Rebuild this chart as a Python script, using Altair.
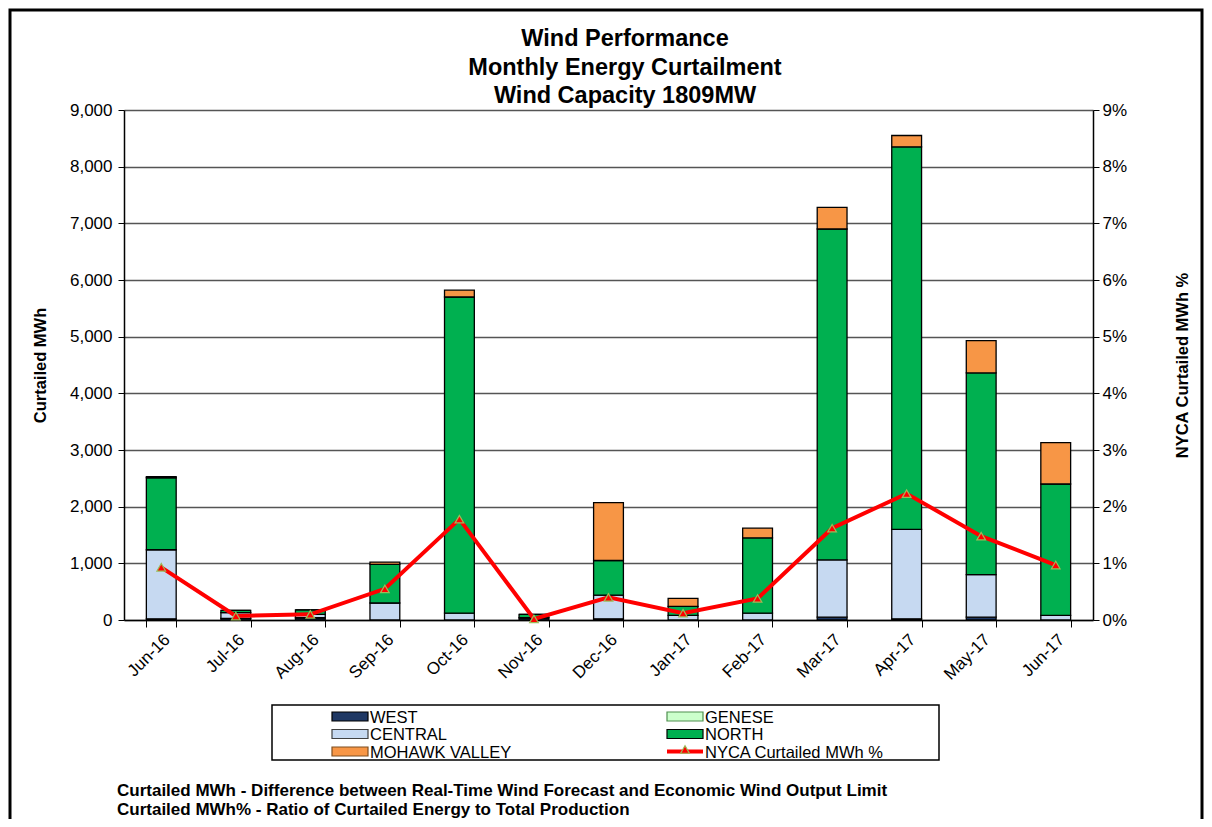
import altair as alt
import pandas as pd

months = ["Jun-16", "Jul-16", "Aug-16", "Sep-16", "Oct-16", "Nov-16", "Dec-16",
          "Jan-17", "Feb-17", "Mar-17", "Apr-17", "May-17", "Jun-17"]
west = [20, 30, 40, 0, 0, 40, 20, 0, 0, 50, 20, 50, 0]
genese = [0, 0, 0, 0, 0, 0, 0, 0, 0, 0, 0, 0, 0]
central = [1220, 100, 60, 300, 120, 0, 420, 80, 120, 1010, 1580, 750, 80]
north = [1270, 40, 80, 680, 5580, 60, 610, 160, 1330, 5840, 6750, 3560, 2320]
mohawk = [20, 0, 0, 40, 120, 0, 1020, 140, 170, 380, 200, 570, 730]
pct = [0.0093, 0.0007, 0.0010, 0.0055, 0.0178, 0.0002, 0.0040,
       0.0012, 0.0038, 0.0162, 0.0223, 0.0148, 0.0097]

regions = ["WEST", "GENESE", "CENTRAL", "NORTH", "MOHAWK VALLEY"]
colors = ["#1F3864", "#CCFFCC", "#C6D9F1", "#00B050", "#F79646"]
line_name = "NYCA Curtailed MWh %"
title_lines = ["Wind Performance", "Monthly Energy Curtailment", "Wind Capacity 1809MW"]
footnotes = ["Curtailed MWh - Difference between Real-Time Wind Forecast and Economic Wind Output Limit",
             "Curtailed MWh% - Ratio of Curtailed Energy to Total Production"]

FONT = "Liberation Sans"

rows = []
for i, m in enumerate(months):
    for k, (r, vals) in enumerate(zip(regions, [west, genese, central, north, mohawk])):
        rows.append({"month": m, "region": r, "order": k, "mwh": vals[i]})
bars_df = pd.DataFrame(rows)
line_df = pd.DataFrame({"month": months, "pct": pct})
dummy = pd.DataFrame({"a": [0]})

W, H = 969, 510
PAD = {"left": 116, "top": 102, "right": 111, "bottom": 199}

xenc = alt.X("month:N", sort=months,
             scale=alt.Scale(paddingInner=0.6, paddingOuter=0.3),
             axis=alt.Axis(title=None, labelAngle=315, labelAlign="right", labelBaseline="top",
                           labelFontSize=17, labelPadding=4, tickBand="extent", tickSize=7,
                           tickColor="black", domainColor="black", domainWidth=1.5, grid=False))

bars = alt.Chart(bars_df).mark_bar(stroke="black", strokeWidth=1.3).encode(
    x=xenc,
    y=alt.Y("mwh:Q", stack="zero", scale=alt.Scale(domain=[0, 9000]),
            axis=alt.Axis(format=",.0f", values=list(range(0, 9001, 1000)), title="Curtailed MWh",
                          titleFontSize=16.5, titleFontWeight="bold", titlePadding=21,
                          labelFontSize=17, tickSize=6, tickColor="black", domainColor="black",
                          domainWidth=1.5, gridColor="#555555", gridWidth=1.5, labelPadding=6)),
    color=alt.Color("region:N", scale=alt.Scale(domain=regions, range=colors), legend=None),
    order=alt.Order("order:Q", sort="ascending"),
)

yline = alt.Y("pct:Q", scale=alt.Scale(domain=[0, 0.09]),
              axis=alt.Axis(orient="right", format=".0%",
                            values=[0, 0.01, 0.02, 0.03, 0.04, 0.05, 0.06, 0.07, 0.08, 0.09],
                            title=line_name, titleAngle=270, titleFontSize=16.5, titleFontWeight="bold",
                            titlePadding=64, labelFontSize=17, tickSize=6, tickColor="black",
                            domainColor="black", domainWidth=1.5, grid=False, labelPadding=3))

line = alt.Chart(line_df).mark_line(color="#FF0000", strokeWidth=4).encode(x=xenc, y=yline)
points = alt.Chart(line_df).mark_point(shape="triangle-up", filled=True, fill="#FF0000",
                                       stroke="#9BBB59", strokeWidth=1.2, size=75,
                                       opacity=1).encode(x=xenc, y=yline)
line_layer = alt.layer(line, points)

deco = []
# title lines
for i, t in enumerate(title_lines):
    deco.append(alt.Chart(dummy).mark_text(text=t, font=FONT, fontSize=23.5, fontWeight="bold",
                                           align="center", baseline="middle", color="black").encode(
        x=alt.value(501), y=alt.value(-71 + 28.5 * i)))
# outer border
deco.append(alt.Chart(dummy).mark_rect(fillOpacity=0, stroke="black", strokeWidth=3).encode(
    x=alt.value(-114), x2=alt.value(1078), y=alt.value(-100), y2=alt.value(760)))
# legend box
deco.append(alt.Chart(dummy).mark_rect(fillOpacity=0, stroke="black", strokeWidth=1.5).encode(
    x=alt.value(148), x2=alt.value(815), y=alt.value(595), y2=alt.value(650)))

row_y = [606.5, 624, 641.5]
col_x = [208, 543]
SW = 36
legend_items = [(regions[0], 0, 0), (regions[1], 1, 0), (regions[2], 0, 1),
                (regions[3], 1, 1), (regions[4], 0, 2)]
swatch_strokes = {"WEST": "#000000", "GENESE": "#4F8F4F", "CENTRAL": "#404040",
                  "NORTH": "#000000", "MOHAWK VALLEY": "#7F4F20"}
for name, c, r in legend_items:
    col = colors[regions.index(name)]
    x0 = col_x[c]
    y0 = row_y[r]
    deco.append(alt.Chart(dummy).mark_rect(fill=col, stroke=swatch_strokes[name], strokeWidth=1.2).encode(
        x=alt.value(x0), x2=alt.value(x0 + SW), y=alt.value(y0 - 4.5), y2=alt.value(y0 + 4.5)))
    deco.append(alt.Chart(dummy).mark_text(text=name, font=FONT, fontSize=16.5, align="left",
                                           baseline="middle", color="black").encode(
        x=alt.value(x0 + SW + 2), y=alt.value(y0 + 1)))
# line legend entry
deco.append(alt.Chart(dummy).mark_rule(color="#FF0000", strokeWidth=4).encode(
    x=alt.value(col_x[1]), x2=alt.value(col_x[1] + SW), y=alt.value(row_y[2])))
deco.append(alt.Chart(dummy).mark_point(shape="triangle-up", filled=True, fill="#FF0000",
                                        stroke="#9BBB59", strokeWidth=1.2, size=75, opacity=1).encode(
    x=alt.value(col_x[1] + SW / 2), y=alt.value(row_y[2] - 2)))
deco.append(alt.Chart(dummy).mark_text(text=line_name, font=FONT, fontSize=16.5, align="left",
                                       baseline="middle", color="black").encode(
    x=alt.value(col_x[1] + SW + 2), y=alt.value(row_y[2] + 1)))
# footnotes
for i, t in enumerate(footnotes):
    deco.append(alt.Chart(dummy).mark_text(text=t, font=FONT, fontSize=17, fontWeight="bold",
                                           align="left", baseline="middle", color="black").encode(
        x=alt.value(-7), y=alt.value(681 + 19 * i)))

chart = alt.layer(bars, line_layer, *deco).resolve_scale(y="independent").properties(
    width=W, height=H,
    autosize=alt.AutoSizeParams(type="none"),
    padding=PAD,
).configure_view(stroke=None).configure_axis(
    labelFont=FONT, titleFont=FONT, labelColor="black", titleColor="black"
).configure(background="white")

chart.save("out.html", embed_options={"renderer": "svg", "actions": False})
